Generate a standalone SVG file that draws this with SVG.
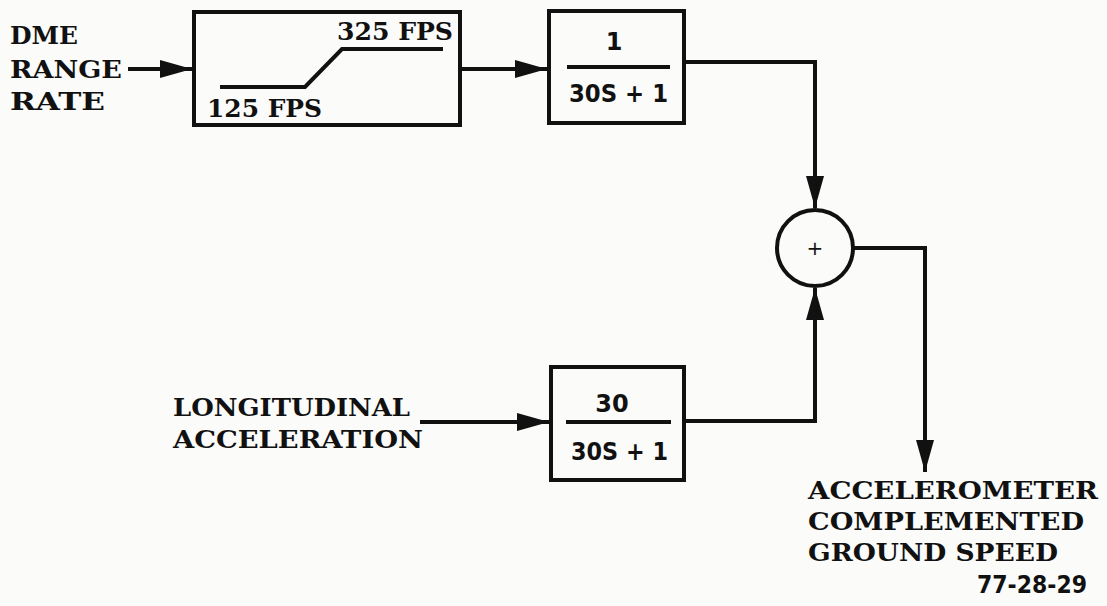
<svg xmlns="http://www.w3.org/2000/svg" width="1107" height="606" viewBox="0 0 1107 606">
<style>
.t{font-family:"DejaVu Serif","Liberation Serif",serif;font-weight:bold;font-size:24px;fill:#111}
.f{font-family:"DejaVu Sans","Liberation Sans",sans-serif;font-weight:bold;font-size:24px;fill:#111}
.s{font-family:"DejaVu Sans","Liberation Sans",sans-serif;font-weight:bold;font-size:25px;fill:#111}
.b{fill:none;stroke:#111;stroke-width:4}
.c{fill:none;stroke:#111;stroke-width:4}
</style>
<defs>
<marker id="ah" markerWidth="8" markerHeight="4.5" refX="8" refY="2.25" orient="auto" markerUnits="strokeWidth">
<path d="M0,0 L8,2.25 L0,4.5 Z" fill="#111"/>
</marker>
</defs>
<rect width="1107" height="606" fill="#fbfbfa"/>
<g id="input-dme">
<text class="t" x="10" y="44" textLength="68" lengthAdjust="spacingAndGlyphs">DME</text>
<text class="t" x="10" y="78" textLength="112" lengthAdjust="spacingAndGlyphs">RANGE</text>
<text class="t" x="10" y="110" textLength="95" lengthAdjust="spacingAndGlyphs">RATE</text>
</g>
<g id="limiter">
<rect class="b" x="194" y="12" width="266" height="113"/>
<polyline class="b" points="220,87 305,87 342,49 443,49"/>
<text class="t" x="337" y="40" textLength="116" lengthAdjust="spacingAndGlyphs">325 FPS</text>
<text class="t" x="207" y="117" textLength="115" lengthAdjust="spacingAndGlyphs">125 FPS</text>
</g>
<g id="filter-top">
<rect class="b" x="549" y="11" width="135" height="112"/>
<line class="b" x1="567" y1="67" x2="670" y2="67"/>
<text class="f" x="614" y="50" text-anchor="middle">1</text>
<text class="f" x="569" y="102" textLength="99" lengthAdjust="spacingAndGlyphs">30S + 1</text>
</g>
<g id="filter-bottom">
<rect class="b" x="551" y="367" width="133" height="113"/>
<line class="b" x1="566" y1="422" x2="671" y2="422"/>
<text class="f" x="612" y="412" text-anchor="middle">30</text>
<text class="f" x="571" y="460" textLength="97" lengthAdjust="spacingAndGlyphs">30S + 1</text>
</g>
<g id="input-accel">
<text class="t" x="173" y="416" textLength="237" lengthAdjust="spacingAndGlyphs">LONGITUDINAL</text>
<text class="t" x="173" y="448" textLength="250" lengthAdjust="spacingAndGlyphs">ACCELERATION</text>
</g>
<g id="sum">
<circle class="b" cx="815" cy="248" r="38"/>
<text x="815" y="255" text-anchor="middle" font-family="DejaVu Sans, sans-serif" font-size="20" fill="#111">+</text>
</g>
<g id="output">
<text class="t" x="808" y="499" textLength="290" lengthAdjust="spacingAndGlyphs">ACCELEROMETER</text>
<text class="t" x="808" y="530" textLength="276" lengthAdjust="spacingAndGlyphs">COMPLEMENTED</text>
<text class="t" x="808" y="561" textLength="250" lengthAdjust="spacingAndGlyphs">GROUND SPEED</text>
<text class="s" x="977" y="593" textLength="110" lengthAdjust="spacingAndGlyphs">77-28-29</text>
</g>
<g id="connectors">
<line class="c" x1="128" y1="69" x2="192" y2="69" marker-end="url(#ah)"/>
<line class="c" x1="460" y1="69" x2="547" y2="69" marker-end="url(#ah)"/>
<polyline class="c" points="684,62 815,62 815,208" marker-end="url(#ah)"/>
<line class="c" x1="420" y1="422" x2="549" y2="422" marker-end="url(#ah)"/>
<polyline class="c" points="684,421 815,421 815,288" marker-end="url(#ah)"/>
<polyline class="c" points="853,248 925,248 925,472" marker-end="url(#ah)"/>
</g>
</svg>
